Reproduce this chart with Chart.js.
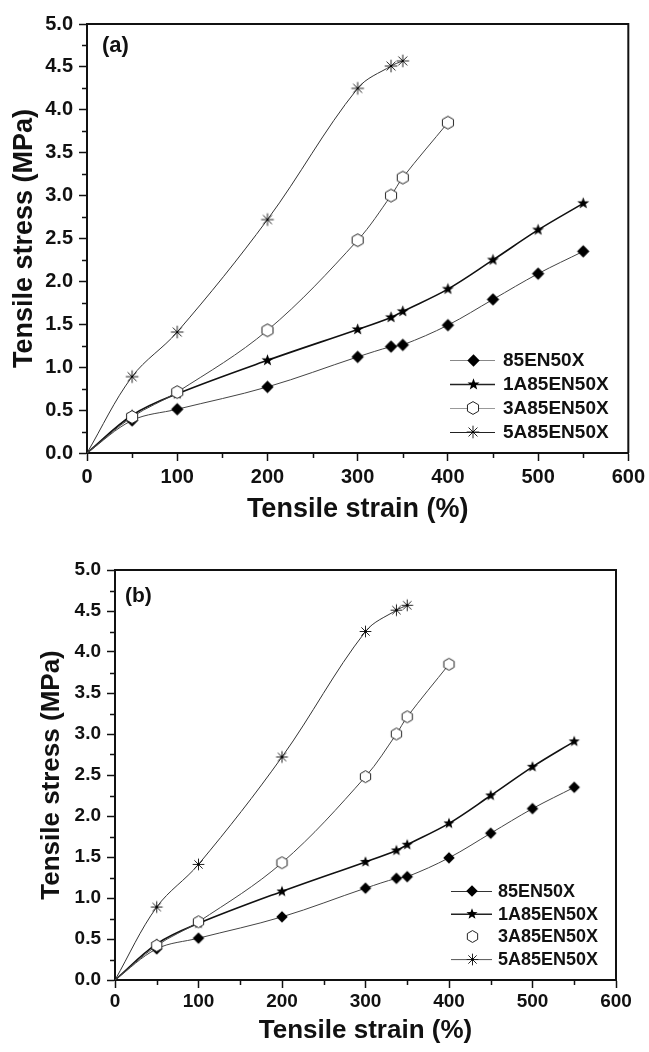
<!DOCTYPE html>
<html>
<head>
<meta charset="utf-8">
<script src="https://cdn.jsdelivr.net/npm/chart.js@4.4.1/dist/chart.umd.min.js"></script>
<style>
  html, body { margin: 0; padding: 0; background: #fff; }
  .panel { position: absolute; left: 0; width: 649px; height: 526px; }
  #panel-a { top: 0; }
  #panel-b { top: 526px; }
</style>
</head>
<body>
<div class="panel" id="panel-a"><canvas id="chart-a" width="649" height="526"></canvas></div>
<div class="panel" id="panel-b"><canvas id="chart-b" width="649" height="526"></canvas></div>
<script>
/* ---- tensile test data (strain %, stress MPa) ---- */
const seriesNames = ['85EN50X', '1A85EN50X', '3A85EN50X', '5A85EN50X'];

const strain85 = [0, 50, 100, 200, 300, 337, 350, 400, 450, 500, 550];
const stress85 = [0, 0.38, 0.51, 0.77, 1.12, 1.24, 1.26, 1.49, 1.79, 2.09, 2.35];

const strain1A = [0, 50, 100, 200, 300, 337, 350, 400, 450, 500, 550];
const stress1A = [0, 0.44, 0.69, 1.08, 1.44, 1.58, 1.65, 1.91, 2.25, 2.60, 2.91];

const strain3A = [0, 50, 100, 200, 300, 337, 350, 400];
const stress3A = [0, 0.42, 0.71, 1.43, 2.48, 3.00, 3.21, 3.85];

const strain5A = [0, 50, 100, 200, 300, 337, 350];
const stress5A = [0, 0.89, 1.41, 2.72, 4.25, 4.51, 4.57];

const xTicks = [0, 100, 200, 300, 400, 500, 600];
const yTicks = [0, 0.5, 1, 1.5, 2, 2.5, 3, 3.5, 4, 4.5, 5];

const FONT = "'Liberation Sans', Arial, Helvetica, sans-serif";
const INK = '#111';

// ---- marker sprites ----
function sprite(size, draw) {
  const c = document.createElement('canvas');
  c.width = c.height = size;
  const g = c.getContext('2d');
  draw(g, size / 2);
  return c;
}

function makeMarkers(k) {
  const diamond = sprite(Math.round(15 * k), (g, c) => {
    const r = 6.2 * k;
    g.fillStyle = '#000';
    g.beginPath();
    g.moveTo(c, c - r); g.lineTo(c + r, c); g.lineTo(c, c + r); g.lineTo(c - r, c);
    g.closePath(); g.fill();
  });
  const star = sprite(Math.round(15 * k), (g, c) => {
    const ro = 6.3 * k, ri = 2.6 * k;
    g.fillStyle = '#000';
    g.beginPath();
    for (let i = 0; i < 10; i++) {
      const r = i % 2 ? ri : ro;
      const a = -Math.PI / 2 + i * Math.PI / 5;
      g.lineTo(c + r * Math.cos(a), c + r * Math.sin(a));
    }
    g.closePath(); g.fill();
  });
  const hexagon = sprite(Math.round(16 * k), (g, c) => {
    const r = 6.4 * k;
    g.fillStyle = '#fff';
    g.strokeStyle = '#222';
    g.lineWidth = 1;
    g.beginPath();
    for (let i = 0; i < 6; i++) {
      const a = -Math.PI / 2 + i * Math.PI / 3;
      g.lineTo(c + r * Math.cos(a), c + r * Math.sin(a));
    }
    g.closePath(); g.fill(); g.stroke();
  });
  const asterisk = sprite(Math.round(16 * k), (g, c) => {
    const r = 6.3 * k;
    g.strokeStyle = '#222';
    g.lineWidth = 1;
    g.beginPath();
    for (let i = 0; i < 4; i++) {
      const a = i * Math.PI / 4;
      g.moveTo(c - r * Math.cos(a), c - r * Math.sin(a));
      g.lineTo(c + r * Math.cos(a), c + r * Math.sin(a));
    }
    g.stroke();
    g.fillStyle = '#000';
    g.fillRect(c - 1, c - 1, 2, 2);
  });
  return [diamond, star, hexagon, asterisk];
}

function toPoints(xs, ys) {
  return xs.map((x, i) => ({ x, y: ys[i] }));
}

// ---- plugins: frame + minor ticks, inset legend, panel tag ----
const framePlugin = {
  id: 'frame',
  afterDraw(chart) {
    const { ctx, chartArea: a, scales } = chart;
    ctx.save();
    ctx.strokeStyle = INK;
    ctx.lineWidth = 2;
    ctx.beginPath();
    ctx.moveTo(a.left, a.top);
    ctx.lineTo(a.right, a.top);
    ctx.lineTo(a.right, a.bottom);
    ctx.stroke();

    ctx.lineWidth = 1.5;
    ctx.beginPath();
    for (let v = 50; v < 600; v += 100) {
      const px = Math.round(scales.x.getPixelForValue(v)) + 0.5;
      ctx.moveTo(px, a.bottom);
      ctx.lineTo(px, a.bottom + 5);
    }
    for (let v = 0.25; v < 5; v += 0.5) {
      const py = Math.round(scales.y.getPixelForValue(v)) + 0.5;
      ctx.moveTo(a.left, py);
      ctx.lineTo(a.left - 5, py);
    }
    ctx.stroke();
    ctx.restore();
  }
};

const legendPlugin = {
  id: 'insetLegend',
  afterDraw(chart, args, opts) {
    const { ctx } = chart;
    ctx.save();
    ctx.font = `bold ${opts.fontSize}px ${FONT}`;
    ctx.textBaseline = 'middle';
    ctx.textAlign = 'left';
    chart.data.datasets.forEach((ds, i) => {
      const y = opts.y0 + i * opts.dy;
      if (opts.lineColors[i]) {
        ctx.strokeStyle = opts.lineColors[i];
        ctx.lineWidth = opts.lineWidths[i];
        ctx.beginPath();
        ctx.moveTo(opts.x1, y + 0.5);
        ctx.lineTo(opts.x2, y + 0.5);
        ctx.stroke();
      }
      const img = ds.pointStyle;
      ctx.drawImage(img, Math.round(opts.mx - img.width / 2), Math.round(y - img.height / 2));
      ctx.fillStyle = INK;
      ctx.fillText(ds.label, opts.tx, y + 1);
    });
    ctx.restore();
  }
};

const tagPlugin = {
  id: 'panelTag',
  afterDraw(chart, args, opts) {
    const { ctx } = chart;
    ctx.save();
    ctx.font = `bold ${opts.fontSize}px ${FONT}`;
    ctx.fillStyle = INK;
    ctx.textBaseline = 'middle';
    ctx.fillText(opts.text, opts.x, opts.y);
    ctx.restore();
  }
};

// ---- panel builder ----
function buildPanel(canvasId, p) {
  const markers = makeMarkers(p.markerScale);
  const lineCols = ['#444', '#111', '#444', '#333'];
  const lineW = [1, 1.6, 1, 1];
  const xs = [strain85, strain1A, strain3A, strain5A];
  const ys = [stress85, stress1A, stress3A, stress5A];

  const datasets = seriesNames.map((name, i) => ({
    label: name,
    data: toPoints(xs[i], ys[i]),
    showLine: true,
    borderColor: lineCols[i],
    borderWidth: lineW[i],
    tension: 0.35,
    pointStyle: markers[i],
    pointRadius: ctx => (ctx.raw && ctx.raw.x === 0 ? 0 : 6),
    order: i === 2 ? -1 : i
  }));

  const tickFont = { family: FONT, weight: 'bold', size: p.tickSize };
  const titleFont = { family: FONT, weight: 'bold', size: p.titleSize };
  const grid = { drawOnChartArea: false, drawTicks: true, tickLength: 8, tickWidth: 1.5, tickColor: INK };
  const border = { display: true, color: INK, width: 2 };

  return new Chart(document.getElementById(canvasId), {
    type: 'scatter',
    data: { datasets },
    options: {
      responsive: false,
      animation: false,
      devicePixelRatio: 1,
      layout: { padding: { left: 0, top: p.top, right: 649 - p.right, bottom: 0 } },
      plugins: {
        legend: { display: false },
        tooltip: { enabled: false },
        insetLegend: p.legend,
        panelTag: p.tag
      },
      scales: {
        x: {
          type: 'linear',
          min: xTicks[0],
          max: xTicks[xTicks.length - 1],
          afterBuildTicks: s => { s.ticks = xTicks.map(v => ({ value: v })); },
          ticks: { font: tickFont, color: INK, padding: p.xTickPad, callback: v => String(v) },
          grid, border,
          title: { display: true, text: 'Tensile strain (%)', font: titleFont, color: INK, padding: { top: 0, bottom: p.xTitlePad } },
          afterFit: s => { s.height = 526 - p.bottom; }
        },
        y: {
          type: 'linear',
          min: yTicks[0],
          max: yTicks[yTicks.length - 1],
          afterBuildTicks: s => { s.ticks = yTicks.map(v => ({ value: v })); },
          ticks: { font: tickFont, color: INK, padding: p.yTickPad, callback: v => v.toFixed(1) },
          grid, border,
          title: { display: true, text: 'Tensile stress (MPa)', font: titleFont, color: INK, padding: { top: p.yTitlePad, bottom: 0 } },
          afterFit: s => { s.width = p.left; }
        }
      }
    },
    plugins: [framePlugin, legendPlugin, tagPlugin]
  });
}

buildPanel('chart-a', {
  left: 87, right: 630, top: 24, bottom: 453,
  tickSize: 20, titleSize: 27, markerScale: 1,
  xTickPad: 4, yTickPad: 6, xTitlePad: 0, yTitlePad: 8,
  legend: {
    x1: 450, x2: 495, mx: 473, tx: 503, y0: 360, dy: 24, fontSize: 19,
    lineColors: ['#888', '#222', '#999', '#222'], lineWidths: [1, 1.5, 1, 1]
  },
  tag: { text: '(a)', x: 102, y: 46, fontSize: 22 }
});

buildPanel('chart-b', {
  left: 115, right: 616, top: 44, bottom: 454,
  tickSize: 19, titleSize: 26, markerScale: 0.93,
  xTickPad: 2, yTickPad: 6, xTitlePad: 6, yTitlePad: 36,
  legend: {
    x1: 451, x2: 492, mx: 472, tx: 498, y0: 365, dy: 22.7, fontSize: 18,
    lineColors: ['#333', '#222', null, '#555'], lineWidths: [1, 1.5, 1, 1]
  },
  tag: { text: '(b)', x: 125, y: 70, fontSize: 21 }
});
</script>
</body>
</html>
